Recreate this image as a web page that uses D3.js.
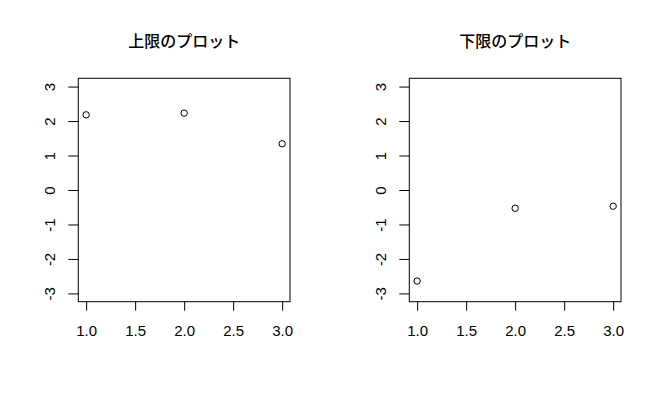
<!DOCTYPE html>
<html>
<head>
<meta charset="utf-8">
<script src="https://cdn.jsdelivr.net/npm/d3@7"></script>
<style>
  body { margin: 0; background: #fff; }
  .tick text { font-family: "Liberation Sans", Arial, sans-serif; font-size: 15px; fill: #000; }
  .title { font-family: "Noto Sans CJK JP", sans-serif; font-size: 16px; font-weight: 500; fill: #000; }
</style>
</head>
<body>
<div id="chart"></div>
<script>
(function(d3) {
  "use strict";

  // data
  var xs = [1, 2, 3];
  var upper = [2.18, 2.23, 1.34];
  var lower = [-2.64, -0.53, -0.47];
  var xTicks = [1, 1.5, 2, 2.5, 3];
  var yTicks = [-3, -2, -1, 0, 1, 2, 3];
  var titles = ["上限のプロット", "下限のプロット"];

  var width = 662, height = 400;
  var Plot = { top: 78.3, bottom: 301.7, width: 211.7 };
  var panelLefts = [78.3, 409.3];

  var svg = d3.select("#chart").append("svg")
    .attr("width", width)
    .attr("height", height);

  // R pads the range by 4% each side
  var pad = function(lo, hi) { var d = (hi - lo) * 0.04; return [lo - d, hi + d]; };

  var y = d3.scaleLinear().domain(pad(-3, 3)).range([Plot.bottom, Plot.top]);

  var panel = function(left, values, title) {
    var x = d3.scaleLinear().domain(pad(1, 3)).range([left, left + Plot.width]);

    svg.append("text")
      .attr("class", "title")
      .attr("x", left + Plot.width / 2)
      .attr("y", 46.5)
      .attr("text-anchor", "middle")
      .text(title);

    var xAxis = svg.append("g")
      .attr("transform", `translate(0, ${Plot.bottom})`)
      .call(d3.axisBottom(x).tickValues(xTicks).tickFormat(d3.format(".1f"))
        .tickSize(9).tickSizeOuter(0).tickPadding(15));
    xAxis.select(".domain").remove();
    xAxis.selectAll("line").attr("stroke", "#000");

    var yAxis = svg.append("g")
      .attr("transform", `translate(${left}, 0)`)
      .call(d3.axisLeft(y).tickValues(yTicks).tickFormat(d3.format("d"))
        .tickSize(10).tickSizeOuter(0));
    yAxis.select(".domain").remove();
    yAxis.selectAll("line").attr("stroke", "#000");
    yAxis.selectAll("text")
      .attr("x", 0)
      .attr("dy", 0)
      .attr("text-anchor", "middle")
      .attr("transform", "translate(-23.8, 0) rotate(-90)")
      .text(d => d < 0 ? "-" + Math.abs(d) : d);

    svg.append("rect")
      .attr("x", left)
      .attr("y", Plot.top)
      .attr("width", Plot.width)
      .attr("height", Plot.bottom - Plot.top)
      .attr("fill", "none")
      .attr("stroke", "#000")
      .attr("stroke-width", 1);

    svg.append("g").selectAll("circle")
      .data(values)
      .enter()
      .append("circle")
      .attr("cx", (d, i) => x(xs[i]))
      .attr("cy", d => y(d))
      .attr("r", 3.2)
      .attr("fill", "none")
      .attr("stroke", "#000")
      .attr("stroke-width", 1);
  };

  panel(panelLefts[0], upper, titles[0]);
  panel(panelLefts[1], lower, titles[1]);

})(d3);
</script>
</body>
</html>
